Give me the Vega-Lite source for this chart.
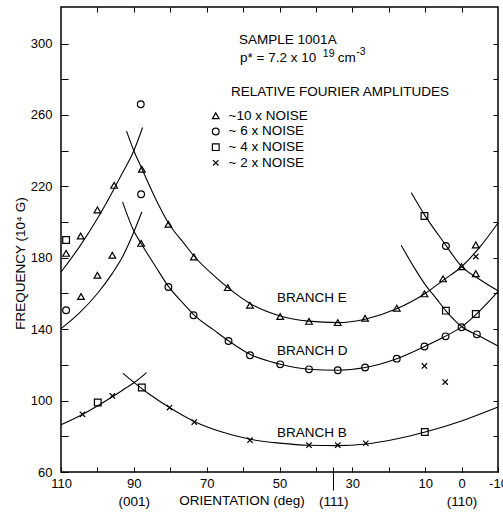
{
  "$schema": "https://vega.github.io/schema/vega-lite/v6.json",
  "width": 437,
  "height": 465,
  "autosize": {"type": "none"},
  "padding": {"left": 61, "top": 7, "right": 5, "bottom": 42},
  "config": {
    "font": "Liberation Sans",
    "view": {"stroke": "black", "strokeWidth": 1.5},
    "axis": {
      "domain": false,
      "grid": false,
      "tickColor": "black",
      "tickWidth": 1,
      "labelColor": "black",
      "titleColor": "black",
      "labelFont": "Liberation Sans",
      "titleFont": "Liberation Sans",
      "labelFontSize": 13,
      "titleFontSize": 13.5,
      "titleFontWeight": "normal"
    }
  },
  "layer": [
    {
      "description": "Fitted branch curves; this layer also carries the tick-only top and right axes",
      "data": {
        "values": [
          {"curve": "E1", "orientation": 110, "frequency": 172},
          {"curve": "E1", "orientation": 105, "frequency": 186},
          {"curve": "E1", "orientation": 100, "frequency": 202},
          {"curve": "E1", "orientation": 96, "frequency": 216.5},
          {"curve": "E1", "orientation": 93, "frequency": 228},
          {"curve": "E1", "orientation": 90, "frequency": 240},
          {"curve": "E1", "orientation": 87.6, "frequency": 253},

          {"curve": "E2", "orientation": 92, "frequency": 251},
          {"curve": "E2", "orientation": 90, "frequency": 240},
          {"curve": "E2", "orientation": 87.8, "frequency": 230},
          {"curve": "E2", "orientation": 84, "frequency": 213},
          {"curve": "E2", "orientation": 80.5, "frequency": 199.5},
          {"curve": "E2", "orientation": 76, "frequency": 187.5},
          {"curve": "E2", "orientation": 73.5, "frequency": 181},
          {"curve": "E2", "orientation": 68, "frequency": 170},
          {"curve": "E2", "orientation": 64, "frequency": 163},
          {"curve": "E2", "orientation": 58, "frequency": 154.3},
          {"curve": "E2", "orientation": 50, "frequency": 147.5},
          {"curve": "E2", "orientation": 42, "frequency": 144.5},
          {"curve": "E2", "orientation": 34, "frequency": 143.7},
          {"curve": "E2", "orientation": 26.5, "frequency": 145.6},
          {"curve": "E2", "orientation": 18, "frequency": 151.3},
          {"curve": "E2", "orientation": 10, "frequency": 160},
          {"curve": "E2", "orientation": 5, "frequency": 167.5},
          {"curve": "E2", "orientation": 0, "frequency": 175},
          {"curve": "E2", "orientation": -5, "frequency": 186},
          {"curve": "E2", "orientation": -10, "frequency": 199.5},

          {"curve": "D1", "orientation": 110, "frequency": 140.3},
          {"curve": "D1", "orientation": 105, "frequency": 149},
          {"curve": "D1", "orientation": 100, "frequency": 160},
          {"curve": "D1", "orientation": 96, "frequency": 171},
          {"curve": "D1", "orientation": 93, "frequency": 181},
          {"curve": "D1", "orientation": 90, "frequency": 194.5},
          {"curve": "D1", "orientation": 87.8, "frequency": 205.7},

          {"curve": "D2", "orientation": 93.1, "frequency": 211.3},
          {"curve": "D2", "orientation": 90, "frequency": 195},
          {"curve": "D2", "orientation": 88, "frequency": 188},
          {"curve": "D2", "orientation": 84, "frequency": 175},
          {"curve": "D2", "orientation": 80.5, "frequency": 164},
          {"curve": "D2", "orientation": 76, "frequency": 153.5},
          {"curve": "D2", "orientation": 73.5, "frequency": 148},
          {"curve": "D2", "orientation": 68, "frequency": 139.5},
          {"curve": "D2", "orientation": 64, "frequency": 133.5},
          {"curve": "D2", "orientation": 58, "frequency": 125.8},
          {"curve": "D2", "orientation": 50, "frequency": 120.5},
          {"curve": "D2", "orientation": 42, "frequency": 117.6},
          {"curve": "D2", "orientation": 34, "frequency": 117},
          {"curve": "D2", "orientation": 26.5, "frequency": 118.5},
          {"curve": "D2", "orientation": 18, "frequency": 123.3},
          {"curve": "D2", "orientation": 10, "frequency": 130.5},
          {"curve": "D2", "orientation": 5, "frequency": 135.5},
          {"curve": "D2", "orientation": 0, "frequency": 141.3},
          {"curve": "D2", "orientation": -5, "frequency": 150.3},
          {"curve": "D2", "orientation": -10, "frequency": 161},

          {"curve": "F1", "orientation": 13.8, "frequency": 216.5},
          {"curve": "F1", "orientation": 10, "frequency": 203.5},
          {"curve": "F1", "orientation": 5, "frequency": 189},
          {"curve": "F1", "orientation": 0, "frequency": 175.2},
          {"curve": "F1", "orientation": -5, "frequency": 167.8},
          {"curve": "F1", "orientation": -10, "frequency": 161.5},

          {"curve": "F2", "orientation": 16.6, "frequency": 187},
          {"curve": "F2", "orientation": 13, "frequency": 174.5},
          {"curve": "F2", "orientation": 10, "frequency": 165},
          {"curve": "F2", "orientation": 7, "frequency": 157.3},
          {"curve": "F2", "orientation": 4.3, "frequency": 150.3},
          {"curve": "F2", "orientation": 0, "frequency": 141.5},
          {"curve": "F2", "orientation": -5, "frequency": 136},
          {"curve": "F2", "orientation": -10, "frequency": 130.6},

          {"curve": "B1", "orientation": 110, "frequency": 86.4},
          {"curve": "B1", "orientation": 104, "frequency": 92.3},
          {"curve": "B1", "orientation": 100, "frequency": 97},
          {"curve": "B1", "orientation": 96, "frequency": 102},
          {"curve": "B1", "orientation": 92, "frequency": 107.3},
          {"curve": "B1", "orientation": 89.9, "frequency": 110.1},
          {"curve": "B1", "orientation": 86.5, "frequency": 115.7},

          {"curve": "B2", "orientation": 93, "frequency": 115.3},
          {"curve": "B2", "orientation": 89.9, "frequency": 110.1},
          {"curve": "B2", "orientation": 86, "frequency": 104},
          {"curve": "B2", "orientation": 80.2, "frequency": 96.1},
          {"curve": "B2", "orientation": 73.4, "frequency": 88.3},
          {"curve": "B2", "orientation": 66, "frequency": 82.5},
          {"curve": "B2", "orientation": 58, "frequency": 78.3},
          {"curve": "B2", "orientation": 50, "frequency": 76.2},
          {"curve": "B2", "orientation": 42, "frequency": 75},
          {"curve": "B2", "orientation": 34, "frequency": 74.8},
          {"curve": "B2", "orientation": 26.3, "frequency": 75.7},
          {"curve": "B2", "orientation": 18, "frequency": 78.5},
          {"curve": "B2", "orientation": 10, "frequency": 82.4},
          {"curve": "B2", "orientation": 0, "frequency": 88.6},
          {"curve": "B2", "orientation": -10, "frequency": 96.4}
        ]
      },
      "mark": {"type": "line", "interpolate": "monotone", "color": "black", "strokeWidth": 1.1},
      "encoding": {
        "x": {
          "field": "orientation", "type": "quantitative",
          "scale": {"domain": [-10, 110], "reverse": true, "nice": false, "zero": false},
          "axis": {"orient": "top", "values": [100, 90, 80, 70, 60, 50, 40, 30, 20, 10, 0], "labels": false, "tickSize": -5, "title": null}
        },
        "y": {
          "field": "frequency", "type": "quantitative",
          "scale": {"domain": [60, 320.5], "nice": false, "zero": false},
          "axis": {"orient": "right", "values": [80, 100, 120, 140, 160, 180, 200, 220, 240, 260, 280, 300], "labels": false, "tickSize": -5, "title": null}
        },
        "detail": {"field": "curve"}
      }
    },
    {
      "description": "Measured Fourier peaks, one symbol per relative amplitude",
      "data": {
        "values": [
          {"amplitude": "~10 x NOISE", "orientation": 108.6, "frequency": 182.5},
          {"amplitude": "~10 x NOISE", "orientation": 104.6, "frequency": 192.2},
          {"amplitude": "~10 x NOISE", "orientation": 100.0, "frequency": 206.8},
          {"amplitude": "~10 x NOISE", "orientation": 95.4, "frequency": 220.6},
          {"amplitude": "~10 x NOISE", "orientation": 87.8, "frequency": 229.6},
          {"amplitude": "~10 x NOISE", "orientation": 80.5, "frequency": 198.8},
          {"amplitude": "~10 x NOISE", "orientation": 73.5, "frequency": 180.5},
          {"amplitude": "~10 x NOISE", "orientation": 64.2, "frequency": 163.3},
          {"amplitude": "~10 x NOISE", "orientation": 58.1, "frequency": 153.4},
          {"amplitude": "~10 x NOISE", "orientation": 49.8, "frequency": 147.1},
          {"amplitude": "~10 x NOISE", "orientation": 41.9, "frequency": 144.4},
          {"amplitude": "~10 x NOISE", "orientation": 34.0, "frequency": 143.7},
          {"amplitude": "~10 x NOISE", "orientation": 26.5, "frequency": 146.1},
          {"amplitude": "~10 x NOISE", "orientation": 17.8, "frequency": 151.8},
          {"amplitude": "~10 x NOISE", "orientation": 10.2, "frequency": 159.8},
          {"amplitude": "~10 x NOISE", "orientation": 5.1, "frequency": 168.2},
          {"amplitude": "~10 x NOISE", "orientation": 0.0, "frequency": 175.0},
          {"amplitude": "~10 x NOISE", "orientation": -3.9, "frequency": 171.1},
          {"amplitude": "~10 x NOISE", "orientation": -3.9, "frequency": 187.2},
          {"amplitude": "~10 x NOISE", "orientation": 104.5, "frequency": 158.3},
          {"amplitude": "~10 x NOISE", "orientation": 100.0, "frequency": 170.2},
          {"amplitude": "~10 x NOISE", "orientation": 95.9, "frequency": 181.4},
          {"amplitude": "~10 x NOISE", "orientation": 88.0, "frequency": 188.1},

          {"amplitude": "~ 6 x NOISE", "orientation": 108.6, "frequency": 150.6},
          {"amplitude": "~ 6 x NOISE", "orientation": 88.1, "frequency": 266.0},
          {"amplitude": "~ 6 x NOISE", "orientation": 88.0, "frequency": 215.6},
          {"amplitude": "~ 6 x NOISE", "orientation": 80.5, "frequency": 163.6},
          {"amplitude": "~ 6 x NOISE", "orientation": 73.6, "frequency": 147.8},
          {"amplitude": "~ 6 x NOISE", "orientation": 64.0, "frequency": 133.4},
          {"amplitude": "~ 6 x NOISE", "orientation": 58.1, "frequency": 125.4},
          {"amplitude": "~ 6 x NOISE", "orientation": 49.8, "frequency": 120.3},
          {"amplitude": "~ 6 x NOISE", "orientation": 41.9, "frequency": 117.5},
          {"amplitude": "~ 6 x NOISE", "orientation": 34.0, "frequency": 117.0},
          {"amplitude": "~ 6 x NOISE", "orientation": 26.5, "frequency": 118.5},
          {"amplitude": "~ 6 x NOISE", "orientation": 17.8, "frequency": 123.5},
          {"amplitude": "~ 6 x NOISE", "orientation": 10.2, "frequency": 130.3},
          {"amplitude": "~ 6 x NOISE", "orientation": 4.4, "frequency": 136.0},
          {"amplitude": "~ 6 x NOISE", "orientation": 0.0, "frequency": 141.1},
          {"amplitude": "~ 6 x NOISE", "orientation": -4.2, "frequency": 137.1},
          {"amplitude": "~ 6 x NOISE", "orientation": 4.3, "frequency": 186.6},

          {"amplitude": "~ 4 x NOISE", "orientation": 108.6, "frequency": 190.0},
          {"amplitude": "~ 4 x NOISE", "orientation": 99.9, "frequency": 98.9},
          {"amplitude": "~ 4 x NOISE", "orientation": 87.8, "frequency": 107.3},
          {"amplitude": "~ 4 x NOISE", "orientation": 10.2, "frequency": 203.4},
          {"amplitude": "~ 4 x NOISE", "orientation": 4.3, "frequency": 150.4},
          {"amplitude": "~ 4 x NOISE", "orientation": -3.9, "frequency": 148.5},
          {"amplitude": "~ 4 x NOISE", "orientation": 10.1, "frequency": 82.4},

          {"amplitude": "~ 2 x NOISE", "orientation": 104.1, "frequency": 92.3},
          {"amplitude": "~ 2 x NOISE", "orientation": 95.9, "frequency": 102.6},
          {"amplitude": "~ 2 x NOISE", "orientation": 80.2, "frequency": 96.1},
          {"amplitude": "~ 2 x NOISE", "orientation": 73.4, "frequency": 88.0},
          {"amplitude": "~ 2 x NOISE", "orientation": 58.1, "frequency": 77.8},
          {"amplitude": "~ 2 x NOISE", "orientation": 41.9, "frequency": 75.0},
          {"amplitude": "~ 2 x NOISE", "orientation": 34.0, "frequency": 75.0},
          {"amplitude": "~ 2 x NOISE", "orientation": 26.3, "frequency": 76.1},
          {"amplitude": "~ 2 x NOISE", "orientation": 10.2, "frequency": 119.4},
          {"amplitude": "~ 2 x NOISE", "orientation": 4.5, "frequency": 110.4},
          {"amplitude": "~ 2 x NOISE", "orientation": -3.9, "frequency": 180.7}
        ]
      },
      "mark": {"type": "point", "filled": false, "color": "black", "strokeWidth": 1.2, "size": 45, "opacity": 1},
      "encoding": {
        "x": {
          "field": "orientation", "type": "quantitative",
          "scale": {"domain": [-10, 110], "reverse": true, "nice": false, "zero": false},
          "axis": {
            "orient": "bottom",
            "values": [110, 100, 90, 80, 70, 60, 50, 40, 35.26, 30, 20, 10, 0, -10],
            "labelExpr": "indexof([110, 90, 70, 50, 30, 10, 0, -10], datum.value) >= 0 ? '' + datum.value : ''",
            "tickSize": -5,
            "labelPadding": 10,
            "labelFlush": false,
            "labelOverlap": false,
            "title": "ORIENTATION (deg)",
            "titleX": 180.5,
            "titleY": 32.5,
            "titleAlign": "center",
            "titleBaseline": "alphabetic"
          }
        },
        "y": {
          "field": "frequency", "type": "quantitative",
          "scale": {"domain": [60, 320.5], "nice": false, "zero": false},
          "axis": {
            "orient": "left",
            "values": [60, 80, 100, 120, 140, 160, 180, 200, 220, 240, 260, 280, 300],
            "labelExpr": "datum.value % 40 == 20 ? datum.label : ''",
            "tickSize": -7,
            "labelPadding": 16,
            "labelOverlap": false,
            "title": "FREQUENCY (10⁴ G)",
            "titleX": -41,
            "titleY": 256,
            "titleAlign": "center",
            "titleBaseline": "middle",
            "titleAngle": 270
          }
        },
        "shape": {
          "field": "amplitude", "type": "nominal",
          "scale": {
            "domain": ["~10 x NOISE", "~ 6 x NOISE", "~ 4 x NOISE", "~ 2 x NOISE"],
            "range": ["triangle-up", "circle", "square", "M-0.8,-0.8L0.8,0.8M-0.8,0.8L0.8,-0.8"]
          },
          "legend": {
            "orient": "none",
            "legendX": 148,
            "legendY": 102,
            "title": null,
            "padding": 0,
            "symbolStrokeColor": "black",
            "symbolFillColor": "transparent",
            "symbolStrokeWidth": 1.2,
            "symbolSize": 45,
            "labelFont": "Liberation Sans",
            "labelFontSize": 13.5,
            "labelColor": "black",
            "labelOffset": 6,
            "rowPadding": 0.7
          }
        }
      }
    },
    {
      "description": "Sample caption and branch names; this layer also carries the crystal direction labels under the axis",
      "data": {
        "values": [
          {"note": "SAMPLE 1001A", "orientation": 61.1, "frequency": 301.8},
          {"note": "p* = 7.2 x 10", "orientation": 60.85, "frequency": 292.2},
          {"note": "cm", "orientation": 34.0, "frequency": 292.2},
          {"note": "RELATIVE FOURIER AMPLITUDES", "orientation": 63.3, "frequency": 272.8},
          {"note": "BRANCH E", "orientation": 50.7, "frequency": 157.6},
          {"note": "BRANCH D", "orientation": 50.7, "frequency": 127.6},
          {"note": "BRANCH B", "orientation": 50.7, "frequency": 82}
        ]
      },
      "mark": {"type": "text", "align": "left", "baseline": "middle", "fontSize": 13.5, "color": "black", "font": "Liberation Sans"},
      "encoding": {
        "x": {
          "field": "orientation", "type": "quantitative",
          "scale": {"domain": [-10, 110], "reverse": true, "nice": false, "zero": false},
          "axis": {
            "orient": "bottom",
            "values": [90, 35.26, 0],
            "labelExpr": "datum.value == 90 ? '(001)' : datum.value == 0 ? '(110)' : '(111)'",
            "tickSize": 18,
            "tickOpacity": {"condition": {"test": "datum.value == 35.26", "value": 1}, "value": 0},
            "labelPadding": 4,
            "labelFontSize": 13.5,
            "labelFlush": false,
            "labelOverlap": false,
            "title": null
          }
        },
        "y": {
          "field": "frequency", "type": "quantitative",
          "scale": {"domain": [60, 320.5], "nice": false, "zero": false},
          "axis": null
        },
        "text": {"field": "note"}
      }
    },
    {
      "description": "Exponents of the carrier density",
      "data": {
        "values": [
          {"note": "19", "orientation": 38.1, "frequency": 293.9},
          {"note": "-3", "orientation": 28.9, "frequency": 295.2}
        ]
      },
      "mark": {"type": "text", "align": "left", "baseline": "middle", "fontSize": 10.5, "color": "black", "font": "Liberation Sans"},
      "encoding": {
        "x": {
          "field": "orientation", "type": "quantitative",
          "scale": {"domain": [-10, 110], "reverse": true, "nice": false, "zero": false},
          "axis": null
        },
        "y": {
          "field": "frequency", "type": "quantitative",
          "scale": {"domain": [60, 320.5], "nice": false, "zero": false},
          "axis": null
        },
        "text": {"field": "note"}
      }
    }
  ],
  "resolve": {"axis": {"x": "independent", "y": "independent"}}
}
